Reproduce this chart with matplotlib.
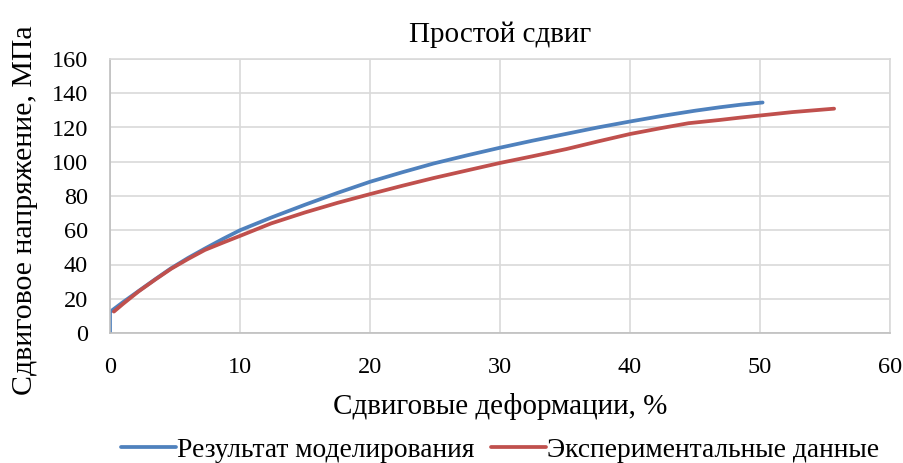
import matplotlib
matplotlib.use("Agg")
import matplotlib.pyplot as plt

# data
model_x = [0, 0, 1, 2.2, 3.5, 4.7, 6, 7.3, 8.7, 10, 12.4, 15, 17.5, 20, 22.5, 24.9, 27.5,
           30, 32.5, 35.1, 37.5, 40, 42.5, 45, 46.9, 48.5, 50.2]
model_y = [0, 12.3, 18, 24.5, 31.5, 37.8, 43.8, 49.3, 55, 60, 67.4, 74.9, 81.8, 88.3, 93.9,
           99, 103.8, 108.2, 112.3, 116.3, 120, 123.5, 126.8, 129.8, 131.8, 133.3, 134.6]

exp_x = [0.3, 1, 2.2, 3.5, 4.7, 6, 7.3, 8.7, 10, 12.4, 15, 17.5, 20, 22.5, 24.9, 27.5,
         30, 32.5, 35.1, 37.5, 40, 42.5, 44.5, 46.9, 48.5, 50, 52.5, 55.7]
exp_y = [12.5, 17, 24.3, 31.3, 37.5, 43.2, 48.5, 52.8, 56.7, 64, 70.4, 76, 81.1, 86,
         90.5, 95, 99.3, 103.2, 107.4, 111.8, 116.2, 119.8, 122.5, 124.4, 125.8, 127,
         129, 131]

x_ticks = [0, 10, 20, 30, 40, 50, 60]
y_ticks = [0, 20, 40, 60, 80, 100, 120, 140, 160]

plt.rcParams["font.family"] = ["Liberation Serif", "DejaVu Serif"]

fig = plt.figure(figsize=(9.04, 4.63), dpi=100)
ax = fig.add_axes([110 / 904, 1 - 333 / 463, (890 - 110) / 904, (333 - 59) / 463])

ax.plot(model_x, model_y, color="#4F81BD", lw=2.7, label="Результат моделирования",
        solid_capstyle="round", solid_joinstyle="round")
ax.plot(exp_x, exp_y, color="#C0504D", lw=2.7, label="Экспериментальные данные",
        solid_capstyle="round", solid_joinstyle="round")

ax.set_xlim(0, 60)
ax.set_ylim(0, 160)
ax.set_xticks(x_ticks)
ax.set_yticks(y_ticks)
ax.grid(True, color="#d9d9d9", lw=1.2)
ax.set_axisbelow(True)
for s in ax.spines.values():
    s.set_color("#d9d9d9")
    s.set_linewidth(1.2)
ax.spines["left"].set_color("#bfbfbf")
ax.spines["bottom"].set_color("#bfbfbf")
ax.tick_params(length=0, labelsize=17.5, pad=16)
ax.tick_params(axis="x", pad=17)

ax.set_title("Простой сдвиг", fontsize=21, pad=12)
ax.set_xlabel("Сдвиговые деформации, %", fontsize=21, labelpad=11)
ax.set_ylabel("Сдвиговое напряжение, МПа", fontsize=21.5)
ax.yaxis.set_label_coords(-0.092, 0.45)

fig.legend(loc="center", bbox_to_anchor=(500 / 904, 1 - 450 / 463), ncol=2, frameon=False,
           fontsize=19.8, handlelength=2.0, handletextpad=0.05, columnspacing=0.6)

fig.savefig("out.png", dpi=100)
